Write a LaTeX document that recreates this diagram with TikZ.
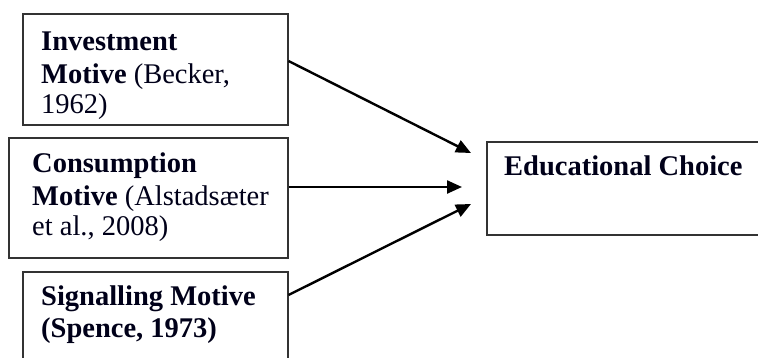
\documentclass[tikz,border=0pt]{standalone}
\usepackage{fontspec}
\setmainfont{Liberation Serif}
\usetikzlibrary{arrows.meta}
\tikzset{
  boxn/.style={draw=black!80, line width=1.5pt, rectangle, inner sep=0pt},
  txt/.style={anchor=base west, inner sep=0pt, font=\fontsize{28.5}{32}\selectfont, text=black!90!blue},
  arr/.style={line width=2.4pt, -{Triangle[length=15pt,width=13pt]}}
}
\begin{document}
\begin{tikzpicture}[x=1pt,y=-1pt]
\useasboundingbox (0,0) rectangle (758,357);
\clip (0,0) rectangle (758,357);
\fill[white] (0,0) rectangle (758,357);
% boxes
\node[boxn, minimum width=265pt, minimum height=111pt, anchor=north west] (b1) at (22,13) {};
\node[boxn, minimum width=279pt, minimum height=120pt, anchor=north west] (b2) at (8,137) {};
\node[boxn, minimum width=265pt, minimum height=100pt, anchor=north west] (b3) at (22,271) {};
\node[boxn, minimum width=290pt, minimum height=93pt, anchor=north west] (ec) at (486,141) {};
% texts
\node[txt] (t1a) at (41,50) {\textbf{Investment}};
\node[txt] (t1b) at (41,83) {\textbf{Motive} (Becker,};
\node[txt] (t1c) at (41,113) {1962)};
\node[txt] (t2a) at (32,172) {\textbf{Consumption}};
\node[txt] (t2b) at (32,205) {\textbf{Motive} (Alstadsæter};
\node[txt] (t2c) at (32,235) {et al., 2008)};
\node[txt] (t3a) at (41,305) {\textbf{Signalling Motive}};
\node[txt] (t3b) at (41,337) {\textbf{(Spence, 1973)}};
\node[txt] (tec) at (504,175) {\textbf{Educational Choice}};
% connector ends
\coordinate (s1) at (b1.east |- 0,61);
\coordinate (s2) at (b2.east |- 0,187);
\coordinate (s3) at (b3.east |- 0,295);
\coordinate (e1) at (471,153);
\coordinate (e2) at (462,187);
\coordinate (e3) at (471,204);
\draw[arr] (s1) -- (e1);
\draw[arr] (s2) -- (e2);
\draw[arr] (s3) -- (e3);
\end{tikzpicture}
\end{document}
